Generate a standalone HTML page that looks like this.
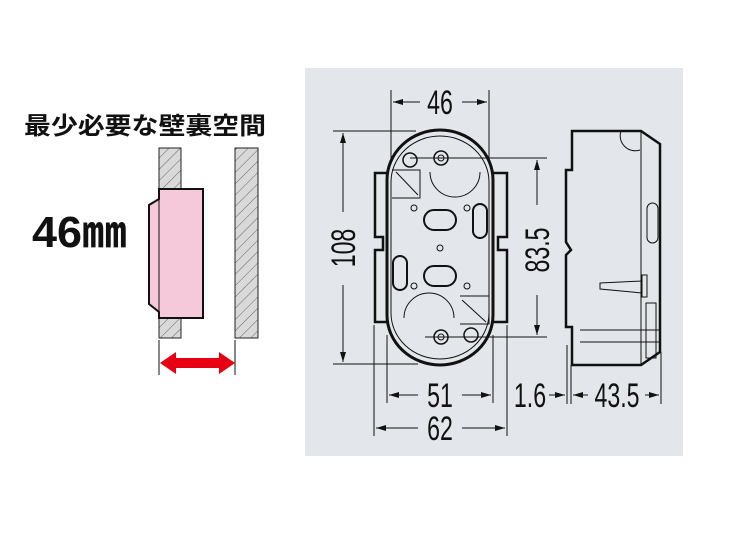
<!DOCTYPE html>
<html><head><meta charset="utf-8"><style>
html,body{margin:0;padding:0;background:#fff;}
body{width:750px;height:536px;position:relative;overflow:hidden;}
</style></head><body>
<svg width="750" height="536" viewBox="0 0 750 536" xmlns="http://www.w3.org/2000/svg" style="position:absolute;left:0;top:0">
<defs>
<pattern id="h" width="8" height="8" patternUnits="userSpaceOnUse" patternTransform="rotate(45)">
<rect width="8" height="8" fill="#d9d9d9"/><line x1="0" y1="0" x2="0" y2="8" stroke="#666" stroke-width="1"/>
</pattern>
<marker id="a" markerWidth="10" markerHeight="6" refX="10" refY="3" orient="auto" markerUnits="userSpaceOnUse"><path d="M0,0 L10,3 L0,6 Z" fill="#111"/></marker>
</defs>
<text x="24" y="134" font-family="'Liberation Sans','Noto Sans CJK JP',sans-serif" font-weight="bold" font-size="24" fill="#111" textLength="242" lengthAdjust="spacingAndGlyphs">最少必要な壁裏空間</text>
<text x="32" y="247" font-family="'Liberation Sans','Noto Sans CJK JP',sans-serif" font-weight="bold" font-size="44" fill="#111" textLength="95" lengthAdjust="spacingAndGlyphs">46㎜</text>
<rect x="159" y="148" width="22" height="190" fill="url(#h)" stroke="#222" stroke-width="1"/>
<rect x="235" y="148" width="23" height="190" fill="url(#h)" stroke="#222" stroke-width="1"/>
<path d="M159,189 L203,189 L203,318 L159,318 L159,312 L149,304 L149,205 L159,199 Z" fill="#f5c8da" stroke="#111" stroke-width="2"/>
<line x1="159" y1="189" x2="159" y2="318" stroke="#111" stroke-width="1"/>
<line x1="159" y1="340" x2="159" y2="375" stroke="#111"/>
<line x1="235" y1="340" x2="235" y2="375" stroke="#111"/>
<path d="M160,363 L176,352 L176,358 L219,358 L219,352 L235,363 L219,374 L219,368 L176,368 L176,374 Z" fill="#e60012"/>
<rect x="305" y="68" width="378" height="388" fill="#e3e7eb"/>
<g stroke="#111" stroke-width="1" fill="none">
<line x1="391" y1="90" x2="391" y2="160"/><line x1="489" y1="90" x2="489" y2="160"/>
<line x1="420" y1="102" x2="393" y2="102" marker-end="url(#a)"/><line x1="462" y1="102" x2="487" y2="102" marker-end="url(#a)"/>
<line x1="333" y1="131" x2="416" y2="131"/><line x1="333" y1="364" x2="418" y2="364"/>
<line x1="343" y1="212" x2="343" y2="133" marker-end="url(#a)"/><line x1="343" y1="285" x2="343" y2="362" marker-end="url(#a)"/>
<line x1="410" y1="158" x2="547" y2="158"/><line x1="425" y1="337" x2="547" y2="337"/>
<line x1="537" y1="205" x2="537" y2="160" marker-end="url(#a)"/><line x1="537" y1="295" x2="537" y2="335" marker-end="url(#a)"/>
<line x1="387" y1="335" x2="387" y2="403"/><line x1="493" y1="335" x2="493" y2="403"/>
<line x1="418" y1="395" x2="389" y2="395" marker-end="url(#a)"/><line x1="462" y1="395" x2="491" y2="395" marker-end="url(#a)"/>
<line x1="374" y1="325" x2="374" y2="436"/><line x1="507" y1="325" x2="507" y2="436"/>
<line x1="418" y1="428" x2="376" y2="428" marker-end="url(#a)"/><line x1="462" y1="428" x2="505" y2="428" marker-end="url(#a)"/>
<line x1="567" y1="345" x2="567" y2="404"/><line x1="571" y1="365" x2="571" y2="404"/><line x1="661" y1="352" x2="661" y2="404"/>
<line x1="549" y1="395" x2="565" y2="395" marker-end="url(#a)"/><line x1="588" y1="395" x2="573" y2="395" marker-end="url(#a)"/>
<line x1="645" y1="395" x2="659" y2="395" marker-end="url(#a)"/>
</g>
<g font-family="'Liberation Sans',sans-serif" font-size="34" fill="#111" text-anchor="middle">
<text x="440" y="114" transform="translate(440 0) scale(0.68 1) translate(-440 0)">46</text>
<text x="440" y="407" transform="translate(440 0) scale(0.68 1) translate(-440 0)">51</text>
<text x="440" y="440" transform="translate(440 0) scale(0.68 1) translate(-440 0)">62</text>
<text x="530" y="407" transform="translate(530 0) scale(0.68 1) translate(-530 0)">1.6</text>
<text x="617" y="407" transform="translate(617 0) scale(0.68 1) translate(-617 0)">43.5</text>
<text x="0" y="0" transform="translate(355 248) rotate(-90) scale(0.68 1)">108</text>
<text x="0" y="0" transform="translate(549 250) rotate(-90) scale(0.68 1)">83.5</text>
</g>
<g stroke="#111" fill="none">
<path d="M387,180 A53,50 0 0 1 493,180 L493,315 A53,50 0 0 1 387,315 Z" stroke-width="3"/>
<path d="M387,173 L375,173 L375,237 L383,237 L383,250 L375,250 L375,322 L387,322" stroke-width="2.5"/>
<path d="M493,173 L507,173 L507,237 L498,237 L498,250 L507,250 L507,322 L493,322" stroke-width="2.5"/>
<path d="M391,182 A49,46 0 0 1 489,182 L489,313 A49,46 0 0 1 391,313 Z" stroke-width="1"/>
<circle cx="441" cy="158" r="7" stroke-width="1.5"/><circle cx="441" cy="158" r="3"/>
<circle cx="441" cy="337" r="7" stroke-width="1.5"/><circle cx="441" cy="337" r="3"/>
<circle cx="410" cy="160" r="7" stroke-width="1.5"/><circle cx="471" cy="335" r="7" stroke-width="1.5"/>
<path d="M430,172 A25,25 0 0 0 480,172" /><path d="M404,318 A25,25 0 0 1 454,318"/>
<rect x="424" y="210" width="32" height="20" rx="10" stroke-width="2"/>
<rect x="424" y="266" width="32" height="20" rx="10" stroke-width="2"/>
<rect x="473" y="204" width="14" height="34" rx="7" stroke-width="2"/>
<rect x="393" y="256" width="14" height="34" rx="7" stroke-width="2"/>
<circle cx="440" cy="248" r="3"/><circle cx="414" cy="208" r="3"/><circle cx="467" cy="208" r="3"/><circle cx="414" cy="286" r="3"/><circle cx="467" cy="286" r="3"/>
<path d="M392,170 L420,170 L420,198 L392,198 M396,172 L418,195"/>
<path d="M460,296 L489,296 L489,324 L460,324 M462,300 L486,322"/>
<path d="M572,131 L641,131 L660,144 L660,352 L641,365 L572,365 L572,327 L566,327 L566,255 L571,250 L566,242 L566,170 L572,170 Z" stroke-width="2.5"/>
<line x1="641" y1="131" x2="641" y2="365"/>
<path d="M621,131 A15,15 0 0 0 640,150"/>
<rect x="647" y="203" width="11" height="40" rx="5.5"/>
<path d="M600,283 L642,281 L642,293 L600,289 Z"/><rect x="642" y="275" width="5" height="22"/>
<rect x="646" y="303" width="10" height="55"/>
<line x1="580" y1="330" x2="660" y2="330"/><line x1="580" y1="342" x2="660" y2="342"/>
</g>
</svg>
</body></html>
